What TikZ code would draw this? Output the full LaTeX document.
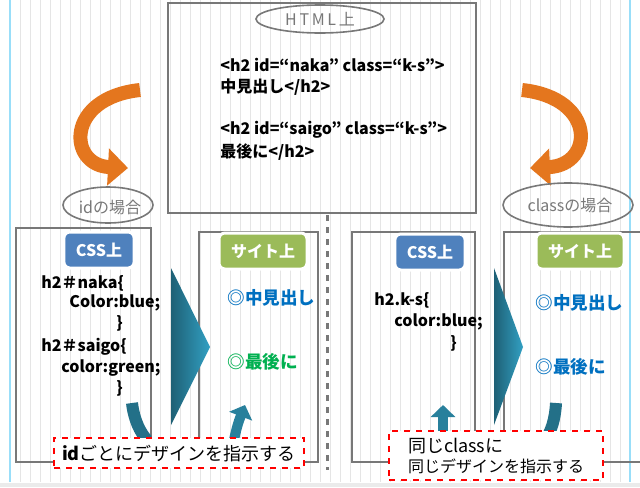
\documentclass[tikz,border=0pt]{standalone}
\usepackage{fontspec}
\setmainfont{Noto Sans CJK JP}
\usetikzlibrary{arrows.meta}
\definecolor{pen}{RGB}{120,120,120}
\definecolor{ora}{RGB}{228,118,30}
\definecolor{teal}{RGB}{50,160,195}
\definecolor{cssb}{RGB}{79,129,189}
\definecolor{siteg}{RGB}{155,187,89}
\definecolor{tblue}{RGB}{0,112,192}
\definecolor{tgreen}{RGB}{0,176,80}
\tikzset{
 sk/.style={draw=pen,line width=1.3pt},
 hand/.style={draw=pen,line width=0.8pt},
 code/.style={anchor=west,font=\bfseries\fontsize{8}{9}\selectfont,inner sep=0pt},
 big/.style={code,font=\bfseries\fontsize{8.8}{10}\selectfont},
 tag/.style={rounded corners=3pt,draw=white,line width=1.5pt,text=white,font=\bfseries\fontsize{8}{9}\selectfont,minimum height=18pt,inner xsep=6pt},
 note/.style={draw=red,dashed,line width=1pt,font=\fontsize{8}{10}\selectfont,align=left,anchor=north west},
 tealarrow/.style={draw=teal!80!black,line width=5pt,-{Triangle[length=6pt,width=12pt]}}
}
\begin{document}
\begin{tikzpicture}[x=0.5pt,y=-0.5pt]
\useasboundingbox[fill=white] (0,0) rectangle (640,487);
\foreach \x in {20,30,...,630} \draw[black!10,line width=0.3pt] (\x,0) -- (\x,482);
\draw[cyan!40,line width=0.6pt] (10,0) -- (10,482) (630,0) -- (630,482);
\fill[black!8] (0,483) rectangle (640,487);
% HTML box
\draw[sk] (168,3) rectangle (476,213);
\draw[hand] (320,19) ellipse (64 and 14);
\node[text=pen,font=\fontsize{8}{9}\selectfont] (htmlt) at (320,19) {H\,T\,M\,L\,上};
\node[code] (c1) at (220,65) {<h2 id=“naka” class=“k-s”>};
\node[code] (c2) at (220,87) {中見出し</h2>};
\node[code] (c3) at (220,130) {<h2 id=“saigo” class=“k-s”>};
\node[code] (c4) at (220,152) {最後に</h2>};
% orange arrows
\draw[ora,line width=7pt,-{Triangle[length=10pt,width=18pt]}] (140,90) .. controls (65,98) and (68,165) .. (128,168);
\draw[ora,line width=7pt,-{Triangle[length=10pt,width=18pt]}] (522,90) .. controls (597,98) and (594,165) .. (530,168);
% case labels
\draw[hand] (108,205) ellipse (45 and 18);
\node[text=pen,font=\fontsize{8}{9}\selectfont] (idc) at (110,207) {idの場合};
\draw[hand] (568,205) ellipse (65 and 22);
\node[text=pen,font=\fontsize{8}{9}\selectfont] (clc) at (570,205) {classの場合};
% boxes
\draw[sk] (16,228) rectangle (151,462);
\draw[sk] (199,232) rectangle (318,462);
\draw[sk] (352,232) rectangle (475,462);
\draw[sk] (504,232) rectangle (645,462);
\draw[pen,line width=1.5pt,dashed] (327,215) -- (327,470);
% tags
\node[tag,fill=cssb] (t1) at (99,250) {CSS上};
\node[tag,fill=siteg] (t2) at (263,251) {サイト上};
\node[tag,fill=cssb] (t3) at (430,252) {CSS上};
\node[tag,fill=siteg] (t4) at (580,251) {サイト上};
% triangles
\shade[left color=teal!60!black,right color=teal] (171,268) -- (210,347) -- (171,425) -- cycle;
\shade[left color=teal!60!black,right color=teal] (494,268) -- (523,347) -- (494,425) -- cycle;
% css text
\node[code] (a1) at (41,283) {h2＃naka\{};
\node[code] (a2) at (69,303) {Color:blue;};
\node[code] (a3) at (116,323) {\}};
\node[code] (a4) at (41,347) {h2＃saigo\{};
\node[code] (a5) at (61,368) {color:green;};
\node[code] (a6) at (116,388) {\}};
\node[big,text=tblue] (s1) at (227,298) {◎中見出し};
\node[big,text=tgreen] (s2) at (227,362) {◎最後に};
\node[code] (b1) at (374,300) {h2.k-s\{};
\node[code] (b2) at (394,322) {color:blue;};
\node[code] (b3) at (450,343) {\}};
\node[big,text=tblue] (r1) at (535,303) {◎中見出し};
\node[big,text=tblue] (r2) at (535,367) {◎最後に};
% small teal arrows
\draw[draw=teal!70!black,line width=6pt] (132,403) .. controls (134,420) and (140,432) .. (147,440);
\draw[tealarrow] (234,440) .. controls (237,425) and (240,418) .. (245,405);
\draw[tealarrow] (443,440) -- (443,405);
\draw[draw=teal!70!black,line width=6pt] (556,403) .. controls (555,420) and (551,432) .. (545,440);
% notes
\node[note,fill=white,minimum width=125pt,minimum height=15pt] (n1) at (53,437) {\fontsize{9}{10}\selectfont\textbf{id}ごとにデザインを指示する};
\node[note,fill=white,minimum width=107pt] (n2) at (388,430) {\fontsize{9}{11}\selectfont 同じclassに\\同じデザインを指示する};
\end{tikzpicture}
\end{document}
